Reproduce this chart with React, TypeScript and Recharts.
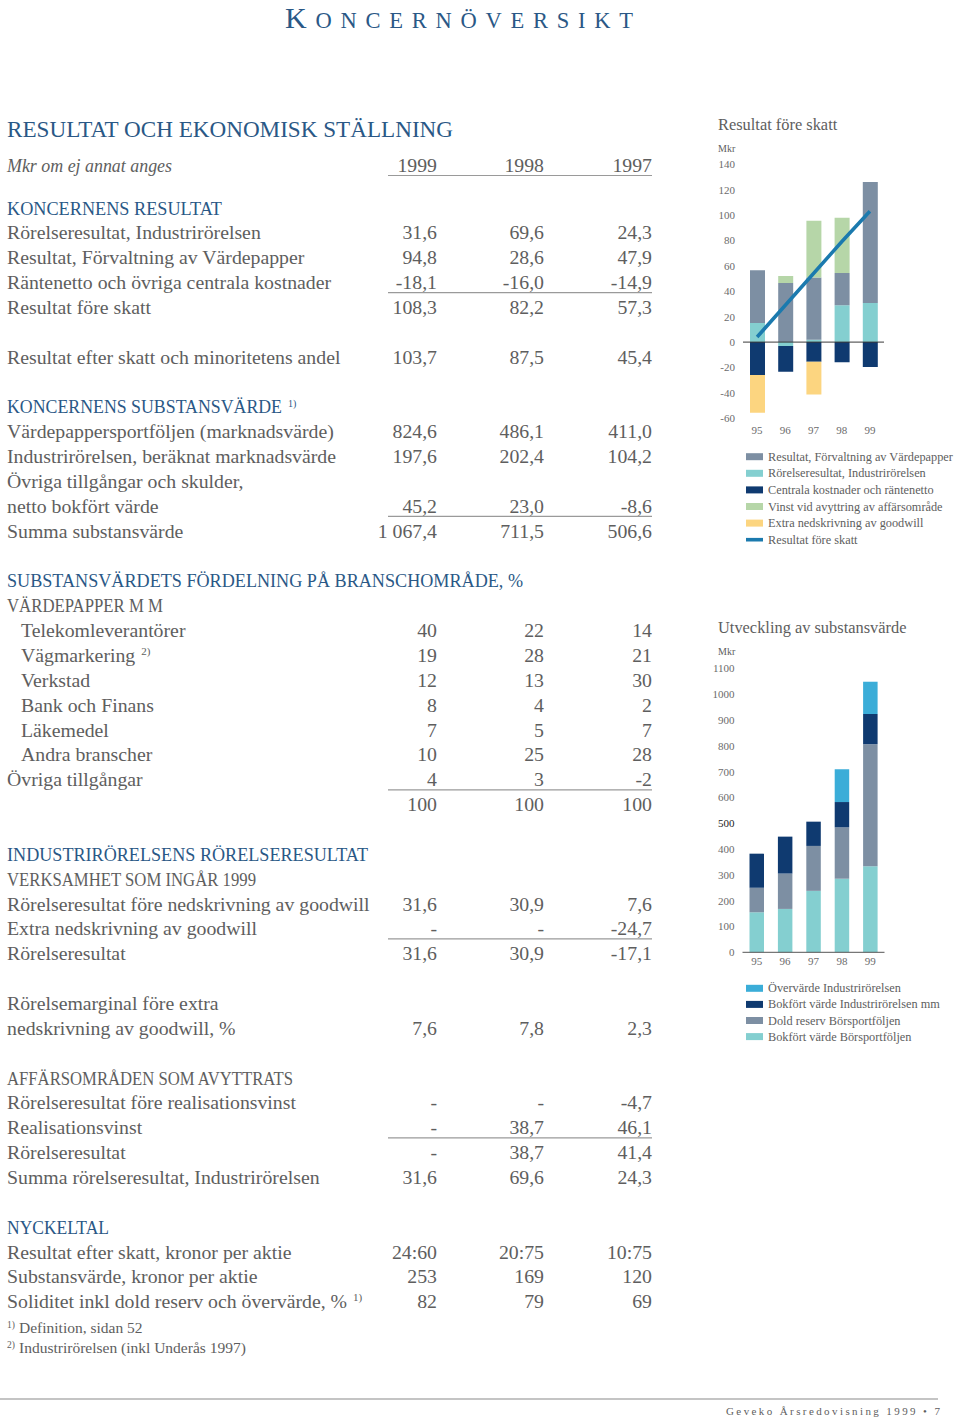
import React from 'react';
import { ComposedChart, BarChart, Bar, Line, XAxis, YAxis, ReferenceLine } from 'recharts';

// ---------- Chart data ----------
const YEARS = ['95', '96', '97', '98', '99'];

// Resultat före skatt (Mkr)
const R_VARDEPAPPER = [41.6, 46.6, 49, 25.5, 95.2];
const R_INDUSTRI = [15, -3, 1.8, 29, 30.8];
const R_CENTRALA = [-26, -20.4, -15.5, -15.8, -19.7];
const R_VINST = [0, 5.5, 44.7, 43.4, 0];
const R_GOODWILL = [-29.7, 0, -25.8, 0, 0];
const R_FORE_SKATT = [4, 29, 54, 79, 103];
const R_TICKS = [-60, -40, -20, 0, 20, 40, 60, 80, 100, 120, 140];

// Utveckling av substansvärde (Mkr)
const S_OVERVARDE = [0, 0, 0, 127, 125];
const S_BOK_INDUSTRI = [132, 143, 94, 98, 117];
const S_DOLD_RESERV = [95, 137, 174, 199, 473];
const S_BOK_BORS = [155, 168, 238, 285, 333];
const S_TICKS = [0, 100, 200, 300, 400, 500, 600, 700, 800, 900, 1000, 1100];

const LEGEND1 = [
  'Resultat, Förvaltning av Värdepapper',
  'Rörelseresultat, Industrirörelsen',
  'Centrala kostnader och räntenetto',
  'Vinst vid avyttring av affärsområde',
  'Extra nedskrivning av goodwill',
  'Resultat före skatt',
];
const LEGEND2 = [
  'Övervärde Industrirörelsen',
  'Bokfört värde Industrirörelsen mm',
  'Dold reserv Börsportföljen',
  'Bokfört värde Börsportföljen',
];

// ---------- Table data ----------
const YEAR_COLS = ['1999', '1998', '1997'];
const KONCERN_RESULTAT = [
  ['Rörelseresultat, Industrirörelsen', '31,6', '69,6', '24,3'],
  ['Resultat, Förvaltning av Värdepapper', '94,8', '28,6', '47,9'],
  ['Räntenetto och övriga centrala kostnader', '-18,1', '-16,0', '-14,9'],
  ['Resultat före skatt', '108,3', '82,2', '57,3'],
];
const EFTER_SKATT = ['Resultat efter skatt och minoritetens andel', '103,7', '87,5', '45,4'];
const SUBSTANSVARDE = [
  ['Värdepappersportföljen (marknadsvärde)', '824,6', '486,1', '411,0'],
  ['Industrirörelsen, beräknat marknadsvärde', '197,6', '202,4', '104,2'],
  ['Övriga tillgångar och skulder,'],
  ['netto bokfört värde', '45,2', '23,0', '-8,6'],
  ['Summa substansvärde', '1 067,4', '711,5', '506,6'],
];
const BRANSCHER = [
  ['Telekomleverantörer', '40', '22', '14'],
  ['Vägmarkering', '19', '28', '21'],
  ['Verkstad', '12', '13', '30'],
  ['Bank och Finans', '8', '4', '2'],
  ['Läkemedel', '7', '5', '7'],
  ['Andra branscher', '10', '25', '28'],
];
const OVRIGA = [
  ['Övriga tillgångar', '4', '3', '-2'],
  ['', '100', '100', '100'],
];
const INDUSTRI_RR = [
  ['Rörelseresultat före nedskrivning av goodwill', '31,6', '30,9', '7,6'],
  ['Extra nedskrivning av goodwill', '-', '-', '-24,7'],
  ['Rörelseresultat', '31,6', '30,9', '-17,1'],
];
const MARGINAL = [
  ['Rörelsemarginal före extra'],
  ['nedskrivning av goodwill, %', '7,6', '7,8', '2,3'],
];
const AVYTTRATS = [
  ['Rörelseresultat före realisationsvinst', '-', '-', '-4,7'],
  ['Realisationsvinst', '-', '38,7', '46,1'],
  ['Rörelseresultat', '-', '38,7', '41,4'],
  ['Summa rörelseresultat, Industrirörelsen', '31,6', '69,6', '24,3'],
];
const NYCKELTAL = [
  ['Resultat efter skatt, kronor per aktie', '24:60', '20:75', '10:75'],
  ['Substansvärde, kronor per aktie', '253', '169', '120'],
  ['Soliditet inkl dold reserv och övervärde, %', '82', '79', '69'],
];
const FOOTNOTES = [
  ['1)', 'Definition, sidan 52'],
  ['2)', 'Industrirörelsen (inkl Underås 1997)'],
];

type Ln = { kind: 'head' | 'sub' | 'row' | 'child' | 'blank'; label?: string; values?: string[]; sup?: string };
const row = (r: string[], kind: 'row' | 'child' = 'row', sup?: string): Ln => ({ kind, label: r[0], values: r.slice(1), sup });
const BLANK: Ln = { kind: 'blank' };

const LINES: Ln[] = [
  { kind: 'head', label: 'KONCERNENS RESULTAT' },
  ...KONCERN_RESULTAT.map((r) => row(r)),
  BLANK,
  row(EFTER_SKATT),
  BLANK,
  { kind: 'head', label: 'KONCERNENS SUBSTANSVÄRDE', sup: '1)' },
  ...SUBSTANSVARDE.map((r) => row(r)),
  BLANK,
  { kind: 'head', label: 'SUBSTANSVÄRDETS FÖRDELNING PÅ BRANSCHOMRÅDE, %' },
  { kind: 'sub', label: 'VÄRDEPAPPER M M' },
  ...BRANSCHER.map((r, i) => row(r, 'child', i === 1 ? '2)' : undefined)),
  ...OVRIGA.map((r) => row(r)),
  BLANK,
  { kind: 'head', label: 'INDUSTRIRÖRELSENS RÖRELSERESULTAT' },
  { kind: 'sub', label: 'VERKSAMHET SOM INGÅR 1999' },
  ...INDUSTRI_RR.map((r) => row(r)),
  BLANK,
  ...MARGINAL.map((r) => row(r)),
  BLANK,
  { kind: 'sub', label: 'AFFÄRSOMRÅDEN SOM AVYTTRATS' },
  ...AVYTTRATS.map((r) => row(r)),
  BLANK,
  { kind: 'head', label: 'NYCKELTAL' },
  ...NYCKELTAL.map((r, i) => row(r, 'row', i === 2 ? '1)' : undefined)),
];

// ---------- Layout / style ----------
const FONT = '"Liberation Serif", "Times New Roman", serif';
const TEXT = '#5e5e5e';
const BLUE = '#2a5886';
const C_GRAY = '#7d8fa3';
const C_TEAL = '#84cfd0';
const C_NAVY = '#0f3a70';
const C_GREEN = '#b6d6a8';
const C_YELLOW = '#fcd580';
const C_LINE = '#1b7aae';
const C_LIGHTBLUE = '#3badd8';

const ROW0 = 214.5;
const PITCH = 24.86;
const COL_X = [437, 544, 652];
const RULE_ROWS = [3, 12, 23, 29, 37];
const HEAD_WIDTH: Record<number, number> = { 0: 215, 8: 275, 15: 516, 16: 156, 26: 361, 27: 249, 35: 286, 41: 102 };

const chart1Data = YEARS.map((y, i) => ({
  year: y,
  industri: R_INDUSTRI[i],
  vardepapper: R_VARDEPAPPER[i],
  vinst: R_VINST[i],
  centrala: R_CENTRALA[i],
  goodwill: R_GOODWILL[i],
  foreSkatt: R_FORE_SKATT[i],
}));

const chart2Data = YEARS.map((y, i) => ({
  year: y,
  bokBors: S_BOK_BORS[i],
  dold: S_DOLD_RESERV[i],
  bokInd: S_BOK_INDUSTRI[i],
  over: S_OVERVARDE[i],
}));

const tickStyle = { fontSize: 11, fill: '#6b6b6b', fontFamily: FONT };

const S2Tick = (props: any) => {
  const { x, y, payload } = props;
  return (
    <text x={x} y={y} dy={4} textAnchor="end" fontSize={11} fontFamily={FONT} fill={payload.value === 500 ? '#222' : '#6b6b6b'}>
      {payload.value}
    </text>
  );
};

function Table() {
  return (
    <g fontFamily={FONT}>
      <text x={7} y={136.7} fontSize={22.7} fill={BLUE} textLength={446} lengthAdjust="spacingAndGlyphs">
        RESULTAT OCH EKONOMISK STÄLLNING
      </text>
      <text x={7} y={172} fontSize={19} fontStyle="italic" fill={TEXT} textLength={165} lengthAdjust="spacingAndGlyphs">
        Mkr om ej annat anges
      </text>
      {YEAR_COLS.map((yr, j) => (
        <text key={yr} x={COL_X[j]} y={172} fontSize={19.8} fill={TEXT} textAnchor="end">
          {yr}
        </text>
      ))}
      <line x1={388} x2={652} y1={175.5} y2={175.5} stroke="#9a9a9a" strokeWidth={1.2} />
      {LINES.map((ln, i) => {
        const y = ROW0 + i * PITCH;
        if (ln.kind === 'blank') return null;
        if (ln.kind === 'head' || ln.kind === 'sub') {
          const fill = ln.kind === 'head' ? BLUE : TEXT;
          return (
            <g key={i}>
              <text x={7} y={y} fontSize={17.8} fill={fill} textLength={HEAD_WIDTH[i]} lengthAdjust="spacingAndGlyphs">
                {ln.label}
              </text>
              {ln.sup && (
                <text x={7 + HEAD_WIDTH[i] + 6} y={y - 6} fontSize={10} fill={fill}>
                  {ln.sup}
                </text>
              )}
            </g>
          );
        }
        const x = ln.kind === 'child' ? 21 : 7;
        return (
          <g key={i}>
            <text x={x} y={y} fontSize={19.8} fill={TEXT}>
              {ln.label}
              {ln.sup && (
                <tspan fontSize={11} dx={6} dy={-7}>
                  {ln.sup}
                </tspan>
              )}
            </text>
            {(ln.values || []).map((v, j) => (
              <text key={j} x={COL_X[j]} y={y} fontSize={19.8} fill={TEXT} textAnchor="end">
                {v}
              </text>
            ))}
            {RULE_ROWS.includes(i) && <line x1={388} x2={652} y1={y + 3.5} y2={y + 3.5} stroke="#9a9a9a" strokeWidth={1.2} />}
          </g>
        );
      })}
      {FOOTNOTES.map((f, i) => {
        const y = 1332.7 + i * 20.6;
        return (
          <g key={i}>
            <text x={7} y={y - 5} fontSize={9.5} fill={TEXT}>
              {f[0]}
            </text>
            <text x={19} y={y} fontSize={15.5} fill={TEXT}>
              {f[1]}
            </text>
          </g>
        );
      })}
    </g>
  );
}

function Legends() {
  const c1 = [C_GRAY, C_TEAL, C_NAVY, C_GREEN, C_YELLOW, C_LINE];
  const c2 = [C_LIGHTBLUE, C_NAVY, C_GRAY, C_TEAL];
  return (
    <g fontFamily={FONT} fontSize={12.3} fill={TEXT}>
      {LEGEND1.map((t, i) => {
        const y = 456.7 + i * 16.6;
        const isLine = i === 5;
        return (
          <g key={t}>
            <rect x={746} y={y - (isLine ? 1.8 : 3.5)} width={17} height={isLine ? 3.6 : 7} fill={c1[i]} />
            <text x={768} y={y + 4}>{t}</text>
          </g>
        );
      })}
      {LEGEND2.map((t, i) => {
        const y = 988.3 + i * 16.1;
        return (
          <g key={t}>
            <rect x={746} y={y - 3.5} width={17} height={7} fill={c2[i]} />
            <text x={768} y={y + 4}>{t}</text>
          </g>
        );
      })}
    </g>
  );
}

export default function App() {
  return (
    <div style={{ position: 'absolute', left: 0, top: 0, width: 960, height: 1419, background: '#fff', overflow: 'hidden' }}>
      <svg width={960} height={1419} style={{ position: 'absolute', left: 0, top: 0 }}>
        <text x={285} y={28} fontFamily={FONT} fill={BLUE} textLength={348} lengthAdjust="spacing">
          <tspan fontSize={30}>K</tspan>
          <tspan fontSize={22.5}>ONCERNÖVERSIKT</tspan>
        </text>
        <Table />
        <text x={718} y={129.5} fontFamily={FONT} fontSize={16.4} fill={TEXT}>Resultat före skatt</text>
        <text x={718} y={151.5} fontFamily={FONT} fontSize={10} fill={TEXT}>Mkr</text>
        <text x={718} y={633} fontFamily={FONT} fontSize={16.4} fill={TEXT}>Utveckling av substansvärde</text>
        <text x={718} y={655} fontFamily={FONT} fontSize={10} fill={TEXT}>Mkr</text>
        <Legends />
        <line x1={0} x2={938} y1={1399} y2={1399} stroke="#8a8a8a" strokeWidth={1.2} />
        <text x={726} y={1415} fontFamily={FONT} fontSize={11} fill={TEXT} textLength={214} lengthAdjust="spacing">
          Geveko Årsredovisning 1999 • 7
        </text>
      </svg>

      <div style={{ position: 'absolute', left: 700, top: 150 }}>
        <ComposedChart
          width={200}
          height={300}
          data={chart1Data}
          stackOffset="sign"
          margin={{ top: 14.3, right: 16, bottom: 6.7, left: 5 }}
          barSize={15}
        >
          <XAxis dataKey="year" axisLine={false} tickLine={false} height={25} interval={0} tick={tickStyle} />
          <YAxis
            type="number"
            domain={[-60, 140]}
            ticks={R_TICKS}
            interval={0}
            axisLine={false}
            tickLine={false}
            width={38}
            tick={tickStyle}
            allowDataOverflow
          />
          <Bar dataKey="industri" stackId="a" fill={C_TEAL} isAnimationActive={false} />
          <Bar dataKey="vardepapper" stackId="a" fill={C_GRAY} isAnimationActive={false} />
          <Bar dataKey="vinst" stackId="a" fill={C_GREEN} isAnimationActive={false} />
          <Bar dataKey="centrala" stackId="a" fill={C_NAVY} isAnimationActive={false} />
          <Bar dataKey="goodwill" stackId="a" fill={C_YELLOW} isAnimationActive={false} />
          <ReferenceLine y={0} stroke="#3a3a3a" strokeWidth={1} />
          <Line
            type="linear"
            dataKey="foreSkatt"
            stroke={C_LINE}
            strokeWidth={3.5}
            dot={false}
            activeDot={false}
            isAnimationActive={false}
          />
        </ComposedChart>
      </div>

      <div style={{ position: 'absolute', left: 700, top: 650 }}>
        <BarChart
          width={200}
          height={330}
          data={chart2Data}
          margin={{ top: 18.3, right: 15.5, bottom: 2.7, left: 4.5 }}
          barSize={14.5}
        >
          <XAxis
            dataKey="year"
            axisLine={{ stroke: '#555' }}
            tickLine={false}
            tickSize={3}
            height={25}
            interval={0}
            tick={tickStyle}
          />
          <YAxis
            type="number"
            domain={[0, 1100]}
            ticks={S_TICKS}
            interval={0}
            axisLine={false}
            tickLine={false}
            width={38}
            tick={<S2Tick />}
          />
          <Bar dataKey="bokBors" stackId="s" fill={C_TEAL} isAnimationActive={false} />
          <Bar dataKey="dold" stackId="s" fill={C_GRAY} isAnimationActive={false} />
          <Bar dataKey="bokInd" stackId="s" fill={C_NAVY} isAnimationActive={false} />
          <Bar dataKey="over" stackId="s" fill={C_LIGHTBLUE} isAnimationActive={false} />
        </BarChart>
      </div>
    </div>
  );
}
